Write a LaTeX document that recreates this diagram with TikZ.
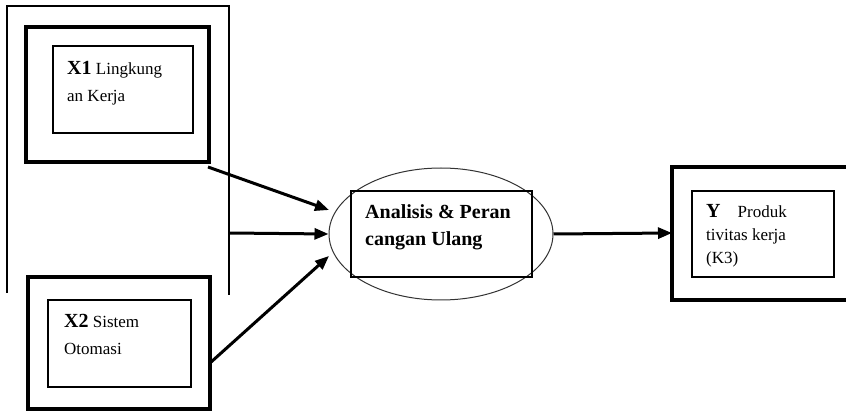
\documentclass[tikz,border=0pt]{standalone}
\usepackage{fontspec}
\setmainfont{Liberation Serif}
\usetikzlibrary{shapes.geometric,arrows.meta}
\tikzset{
  thickbox/.style={draw, line width=4pt, minimum width=#1},
  thinbox/.style={draw, line width=1.5pt},
  conn/.style={line width=3pt, -{Triangle[length=14pt,width=11pt]}},
  lbl/.style={anchor=north west, inner sep=0pt, align=left, font=\fontsize{17}{27}\selectfont},
  big/.style={font=\bfseries\fontsize{20}{27}\selectfont}
}
\begin{document}
\begin{tikzpicture}[x=1pt,y=-1pt]
\useasboundingbox (0,0) rectangle (846,411);
% outer open frame
\draw[line width=1.5pt] (7,293) -- (7,6) -- (229,6) -- (229,295);
% X1
\node[draw, line width=4pt, minimum width=183pt, minimum height=135pt] (x1o) at (117.5,94.5) {};
\node[thinbox, minimum width=140pt, minimum height=87pt] (x1i) at (123,89.5) {};
\node[lbl] (x1t) at (67,61) {{\bfseries\fontsize{20}{27}\selectfont X1} Lingkung\\an Kerja};
% X2
\node[draw, line width=4pt, minimum width=182pt, minimum height=132pt] (x2o) at (119,343) {};
\node[thinbox, minimum width=143pt, minimum height=87pt] (x2i) at (119.5,343.5) {};
\node[lbl] (x2t) at (64,314) {{\bfseries\fontsize{20}{27}\selectfont X2} Sistem\\Otomasi};
% center
\node[draw, ellipse, line width=1pt, draw=black!80, minimum width=224pt, minimum height=132pt] (ell) at (441,234) {};
\node[thinbox, minimum width=181pt, minimum height=86pt] (ar) at (441.5,234) {};
\node[lbl, font=\bfseries\fontsize{20}{27}\selectfont] (art) at (365,204) {Analisis \& Peran\\cangan Ulang};
% Y
\draw[line width=4pt] (850,167) -- (672,167) -- (672,300) -- (850,300);
\coordinate (yo) at (672,233);
\node[thinbox, minimum width=142pt, minimum height=86pt] (yi) at (763,234) {};
\node[lbl, font=\fontsize{17}{23}\selectfont] (yt) at (706,204) {{\bfseries\fontsize{20}{23}\selectfont Y}\quad Produk\\tivitas kerja\\(K3)};
% connectors
\coordinate (a1) at (208,167);
\coordinate (b1) at (329,210);
\coordinate (a2) at (229,233);
\coordinate (a3) at (210,363);
\coordinate (b3) at (329,256);
\draw[conn] (a1) -- (b1);
\draw[conn] (a2) -- (ell.west);
\draw[conn] (a3) -- (b3);
\draw[conn] (ell.east) -- (yo);
\end{tikzpicture}
\end{document}
